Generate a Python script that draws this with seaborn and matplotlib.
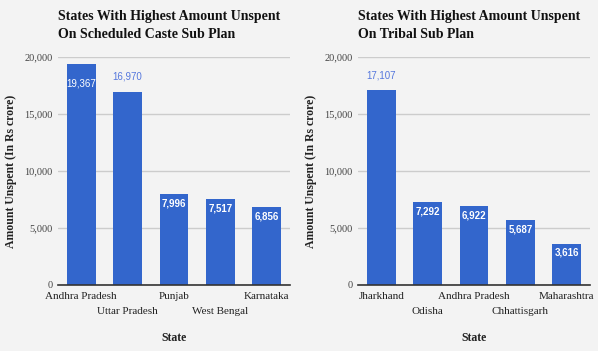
import matplotlib
matplotlib.use('Agg')
import matplotlib.pyplot as plt
import matplotlib.ticker as mticker
import pandas as pd
import seaborn as sns

# data
sc_states = ['Andhra Pradesh', 'Uttar Pradesh', 'Punjab', 'West Bengal', 'Karnataka']
sc_unspent = [19367, 16970, 7996, 7517, 6856]
st_states = ['Jharkhand', 'Odisha', 'Andhra Pradesh', 'Chhattisgarh', 'Maharashtra']
st_unspent = [17107, 7292, 6922, 5687, 3616]

titles = ['States With Highest Amount Unspent\nOn Scheduled Caste Sub Plan',
          'States With Highest Amount Unspent\nOn Tribal Sub Plan']
y_ticks = [0, 5000, 10000, 15000, 20000]

bg = '#f3f3f3'
bar_color = '#3366cc'
serif = ['Liberation Serif', 'DejaVu Serif']
sans = ['Liberation Sans', 'DejaVu Sans']

sns.set_theme(style='white')
plt.rcParams['font.family'] = serif

fig = plt.figure(figsize=(5.98, 3.51), dpi=100, facecolor=bg)

W, H = 598, 351
panels = [(sc_states, sc_unspent, 58, 17), (st_states, st_unspent, 358, 317)]
plot_w, plot_top, plot_bottom = 232, 57, 285

for (states, values, left_px, ylab_px), title in zip(panels, titles):
    ax = fig.add_axes([left_px / W, 1 - plot_bottom / H, plot_w / W, (plot_bottom - plot_top) / H])
    ax.set_facecolor(bg)
    df = pd.DataFrame({'State': states, 'Unspent': values})
    sns.barplot(data=df, x='State', y='Unspent', color=bar_color, saturation=1,
                width=0.62, linewidth=0, ax=ax)
    ax.set_ylim(0, 20000)
    ax.set_xlim(-0.5, len(states) - 0.5)
    ax.set_yticks(y_ticks)
    ax.yaxis.set_major_formatter(mticker.FuncFormatter(lambda v, p: f'{v:,.0f}'))
    ax.grid(axis='y', color='#cccccc', linewidth=1)
    ax.set_axisbelow(True)
    for s in ['top', 'right', 'left']:
        ax.spines[s].set_visible(False)
    ax.spines['bottom'].set_color('#333333')
    ax.spines['bottom'].set_linewidth(1.2)
    ax.spines['bottom'].set_zorder(5)

    # staggered category labels
    ax.set_xticks(range(len(states)))
    ax.set_xticklabels(states, fontsize=8, color='#222222')
    ax.tick_params(axis='x', length=0, pad=5)
    for i, tick in enumerate(ax.xaxis.get_major_ticks()):
        if i % 2 == 1:
            tick.set_pad(5 + 10.8)
    ax.tick_params(axis='y', length=0, pad=4, labelsize=7.5, labelcolor='#444444')

    ax.set_xlabel('State', fontsize=8.5, fontweight='bold', color='#222222')
    ax.xaxis.set_label_coords(0.5, -(332 - plot_bottom) / (plot_bottom - plot_top))
    ax.set_ylabel('Amount Unspent (In Rs crore)', fontsize=8.5, fontweight='bold', color='#222222')
    ax.yaxis.set_label_coords((ylab_px - left_px) / plot_w, 0.5)

    # value labels
    for i, v in enumerate(values):
        if v > 18000:
            ax.annotate(f'{v:,}', (i, v), xytext=(0, -10), textcoords='offset points',
                        ha='center', va='top', fontsize=7, color='white', family=sans)
        elif v > 10000:
            ax.annotate(f'{v:,}', (i, v), xytext=(0, 7), textcoords='offset points',
                        ha='center', va='bottom', fontsize=7, color='#5577dd', family=sans)
        else:
            ax.annotate(f'{v:,}', (i, v), xytext=(0, -3), textcoords='offset points',
                        ha='center', va='top', fontsize=7, color='white',
                        fontweight='bold', family=sans)

    fig.text(left_px / W, 1 - 10 / H, title, ha='left', va='top', fontsize=10,
             fontweight='bold', color='#111111', linespacing=1.55)

fig.savefig('out.png', dpi=100, facecolor=bg)
